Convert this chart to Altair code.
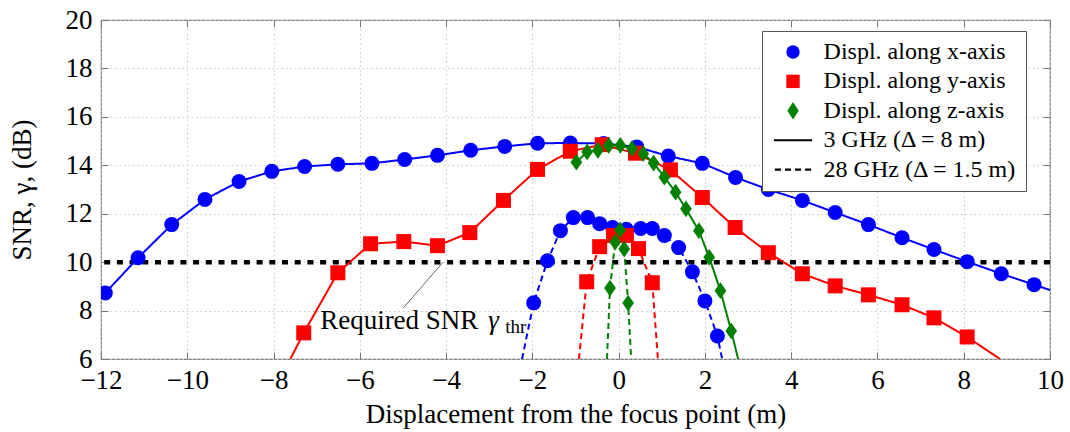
import altair as alt
import pandas as pd

# ---------------- data ----------------
x_ticks = [-12, -10, -8, -6, -4, -2, 0, 2, 4, 6, 8, 10]
y_ticks = [6, 8, 10, 12, 14, 16, 18, 20]

# 3 GHz, displacement along x
x3_x = [-11.9, -11.14, -10.36, -9.59, -8.8, -8.04, -7.28, -6.51, -5.72, -4.96, -4.2, -3.43,
        -2.64, -1.88, -1.12, -0.35, 0.42, 1.15, 1.94, 2.71, 3.47, 4.26, 5.02, 5.79, 6.57,
        7.31, 8.08, 8.87, 9.63]
x3_y = [8.73, 10.18, 11.55, 12.59, 13.33, 13.75, 13.95, 14.04, 14.08, 14.24, 14.41, 14.62,
        14.78, 14.91, 14.92, 14.9, 14.76, 14.38, 14.08, 13.5, 13.0, 12.55, 12.05, 11.55, 11.01,
        10.52, 10.02, 9.52, 9.07]
x3_end_x = [-12.0, 10.0]
x3_end_y = [8.54, 8.85]

# 3 GHz, displacement along y
y3_x = [-7.30, -6.51, -5.75, -4.98, -4.2, -3.45, -2.67, -1.88, -1.12, -0.38, 0.39, 1.2,
        1.94, 2.7, 3.47, 4.26, 5.02, 5.79, 6.57, 7.31, 8.08]
y3_y = [7.08, 9.56, 10.76, 10.85, 10.68, 11.22, 12.55, 13.83, 14.58, 14.85, 14.5, 13.81,
        12.67, 11.43, 10.39, 9.52, 9.02, 8.65, 8.24, 7.70, 6.91]
y3_end_x = [-7.61, 8.84]
y3_end_y = [6.0, 6.0]

# 3 GHz, displacement along z
z3_x = [-0.98, -0.73, -0.48, -0.23, 0.04, 0.31, 0.57, 0.81, 1.06, 1.32, 1.56, 1.86, 2.10,
        2.36, 2.61]
z3_y = [14.13, 14.55, 14.62, 14.82, 14.82, 14.69, 14.48, 14.09, 13.51, 12.89, 12.2, 11.3,
        10.2, 8.82, 7.16]
z3_end_x = [2.77]
z3_end_y = [6.0]

# 28 GHz, displacement along x
x28_x = [-1.97, -1.65, -1.35, -1.05, -0.72, -0.44, -0.14, 0.18, 0.51, 0.78, 1.06, 1.39,
         1.71, 2.0, 2.29]
x28_y = [8.32, 10.06, 11.30, 11.84, 11.84, 11.59, 11.43, 11.36, 11.39, 11.39, 11.10, 10.6,
         9.6, 8.4, 6.95]
x28_end_x = [-2.24, 2.40]
x28_end_y = [6.0, 6.0]

# 28 GHz, displacement along y
y28_x = [-0.74, -0.44, -0.12, 0.18, 0.46, 0.78]
y28_y = [9.19, 10.64, 11.1, 11.1, 10.56, 9.15]
y28_end_x = [-0.92, 0.91]
y28_end_y = [6.0, 6.0]

# 28 GHz, displacement along z
z28_x = [-0.2, -0.08, 0.035, 0.13, 0.22]
z28_y = [8.93, 10.83, 11.33, 10.54, 8.31]
z28_end_x = [-0.27, 0.29]
z28_end_y = [6.0, 6.0]

threshold = [10]

annot_label = "Required SNR"
annot_gamma = "γ"
annot_sub = "thr"
annot_pos_x = [-6.92, -3.02, -2.63]
annot_pos_y = [7.24, 7.24, 7.07]
pin_from = [-4.99, 8.11]
pin_to = [-4.07, 10.0]

axes_names = ["x", "y", "z"]
axes_colors = ["#0000ff", "#ff0000", "#008000"]
freq_names = ["3", "28"]

legend_labels = ["Displ. along x-axis", "Displ. along y-axis", "Displ. along z-axis",
                 "3 GHz (Δ = 8 m)", "28 GHz (Δ = 1.5 m)"]
legend_colors = ["#0000ff", "#ff0000", "#008000", "#000000", "#000000"]

# ---------------- build tables ----------------
DIAMOND = "M0,-1.12L0.78,0L0,1.12L-0.78,0Z"
LEG_DIAMOND = "M0,-1.3L0.85,0L0,1.3L-0.85,0Z"
LEG_SOLID = "M-2.85,-0.16L2.85,-0.16L2.85,0.16L-2.85,0.16Z"
LEG_DASHED = ("M-2.7,-0.16L-1.8,-0.16L-1.8,0.16L-2.7,0.16Z"
              "M-1.2,-0.16L-0.3,-0.16L-0.3,0.16L-1.2,0.16Z"
              "M0.3,-0.16L1.2,-0.16L1.2,0.16L0.3,0.16Z"
              "M1.8,-0.16L2.7,-0.16L2.7,0.16L1.8,0.16Z")

series = [
    ("x", "3", x3_x, x3_y, x3_end_x, x3_end_y),
    ("y", "3", y3_x, y3_y, y3_end_x, y3_end_y),
    ("z", "3", z3_x, z3_y, z3_end_x, z3_end_y),
    ("x", "28", x28_x, x28_y, x28_end_x, x28_end_y),
    ("y", "28", y28_x, y28_y, y28_end_x, y28_end_y),
    ("z", "28", z28_x, z28_y, z28_end_x, z28_end_y),
]
rows = []
for i, (ax, fq, xs, ys, ex, ey) in enumerate(series):
    for a, b in zip(xs, ys):
        rows.append({"x": a, "y": b, "axis": ax, "freq": fq, "marker": True, "order": i})
    for a, b in zip(ex, ey):
        rows.append({"x": a, "y": b, "axis": ax, "freq": fq, "marker": False, "order": i})
df = pd.DataFrame(rows)
pts = df[df["marker"]].reset_index(drop=True)

thr_df = pd.DataFrame({"y": threshold})
pin_df = pd.DataFrame({"x": [pin_from[0]], "y": [pin_from[1]], "x2": [pin_to[0]], "y2": [pin_to[1]]})
txt1 = pd.DataFrame({"x": [annot_pos_x[0]], "y": [annot_pos_y[0]], "t": [annot_label]})
txt2 = pd.DataFrame({"x": [annot_pos_x[1]], "y": [annot_pos_y[1]], "t": [annot_gamma]})
txt3 = pd.DataFrame({"x": [annot_pos_x[2]], "y": [annot_pos_y[2]], "t": [annot_sub]})
leg_df = pd.DataFrame({"entry": legend_labels})

# ---------------- styling ----------------
FONT = "Liberation Serif"
GRID = "#c8c8c8"
TICK = "#777777"
xs = alt.Scale(domain=[-12, 10], nice=False, zero=False)
ys = alt.Scale(domain=[6, 20], nice=False, zero=False)

x_axis = alt.Axis(orient="bottom", values=x_ticks, title="Displacement from the focus point (m)",
                  grid=True, gridColor=GRID, gridDash=[1.5, 3], gridWidth=1,
                  domain=False, ticks=True, tickSize=7, offset=-7, tickColor=TICK,
                  labelFont=FONT, labelFontSize=27, labelColor="black", labelPadding=8,
                  labelFlush=False, labelOverlap=False,
                  titleFont=FONT, titleFontSize=27, titleFontWeight="normal", titleColor="black",
                  titleY=70, titleBaseline="alphabetic")
y_axis = alt.Axis(orient="left", values=y_ticks, title="SNR, γ, (dB)",
                  grid=True, gridColor=GRID, gridDash=[1.5, 3], gridWidth=1,
                  domain=False, ticks=True, tickSize=7, offset=-7, tickColor=TICK,
                  labelFont=FONT, labelFontSize=27, labelColor="black", labelPadding=9,
                  labelFlush=False, labelOverlap=False,
                  titleFont=FONT, titleFontSize=27, titleFontWeight="normal", titleColor="black",
                  titleX=-86, titleBaseline="middle")
x_top = alt.Axis(orient="top", values=x_ticks, title=None, grid=False, domain=False,
                 labels=False, ticks=True, tickSize=7, offset=-7, tickColor=TICK)
y_right = alt.Axis(orient="right", values=y_ticks, title=None, grid=False, domain=False,
                   labels=False, ticks=True, tickSize=7, offset=-7, tickColor=TICK)

color_scale = alt.Scale(domain=axes_names, range=axes_colors)

threshold_layer = alt.Chart(thr_df).mark_rule(
    color="black", strokeWidth=4.5, strokeDash=[6, 6.7], strokeCap="butt"
).encode(y=alt.Y("y:Q", scale=ys, axis=None))

lines = alt.Chart(df).mark_line(strokeWidth=2, clip=True).encode(
    x=alt.X("x:Q", scale=xs, axis=x_axis),
    y=alt.Y("y:Q", scale=ys, axis=y_axis),
    color=alt.Color("axis:N", scale=color_scale, legend=None),
    strokeDash=alt.StrokeDash("freq:N", scale=alt.Scale(domain=freq_names, range=[[1, 0], [6, 4]]),
                              legend=None),
    detail="order:N",
)

points = alt.Chart(pts).mark_point(filled=True, size=225, opacity=1, clip=True).encode(
    x=alt.X("x:Q", scale=xs, axis=None),
    y=alt.Y("y:Q", scale=ys, axis=None),
    color=alt.Color("axis:N", scale=color_scale, legend=None),
    shape=alt.Shape("axis:N", scale=alt.Scale(domain=axes_names, range=["circle", "square", DIAMOND]),
                    legend=None),
)

pin = alt.Chart(pin_df).mark_rule(color="#555555", strokeWidth=0.9).encode(
    x=alt.X("x:Q", scale=xs, axis=x_top),
    y=alt.Y("y:Q", scale=ys, axis=y_right),
    x2="x2:Q", y2="y2:Q",
)

def text_layer(d, size, style="normal"):
    return alt.Chart(d).mark_text(font=FONT, fontSize=size, fontStyle=style, align="left",
                                  baseline="alphabetic", color="black").encode(
        x=alt.X("x:Q", scale=xs, axis=None),
        y=alt.Y("y:Q", scale=ys, axis=None),
        text="t:N",
    )

t1 = text_layer(txt1, 27)
t2 = text_layer(txt2, 27, "italic")
t3 = text_layer(txt3, 19)

legend_layer = alt.Chart(leg_df).transform_filter("false").mark_point(
    filled=True, size=180, opacity=1
).encode(
    color=alt.Color("entry:N", scale=alt.Scale(domain=legend_labels, range=legend_colors),
                    legend=alt.Legend(title=None)),
    shape=alt.Shape("entry:N", scale=alt.Scale(domain=legend_labels,
                                                range=["circle", "square", LEG_DIAMOND, LEG_SOLID, LEG_DASHED]),
                    legend=alt.Legend(title=None)),
)

chart = alt.layer(threshold_layer, lines, points, pin, t1, t2, t3, legend_layer).resolve_scale(
    color="independent", shape="independent"
).resolve_axis(x="independent", y="independent").properties(
    width=949, height=339,
    autosize=alt.AutoSizeParams(type="none"),
    padding={"left": 101, "top": 20, "right": 20, "bottom": 73},
    background="white",
).configure_view(stroke="#808080", strokeWidth=1.2).configure_legend(
    orient="none", legendX=661, legendY=11, padding=9, symbolOffset=10, labelOffset=18.6,
    rowPadding=5.4, labelFont=FONT, labelFontSize=24, labelColor="black", labelLimit=400,
    strokeColor="#555555", fillColor="white", symbolSize=180, cornerRadius=0,
    symbolStrokeWidth=0,
)

chart.save("out.html", embed_options={"renderer": "svg", "actions": False})
